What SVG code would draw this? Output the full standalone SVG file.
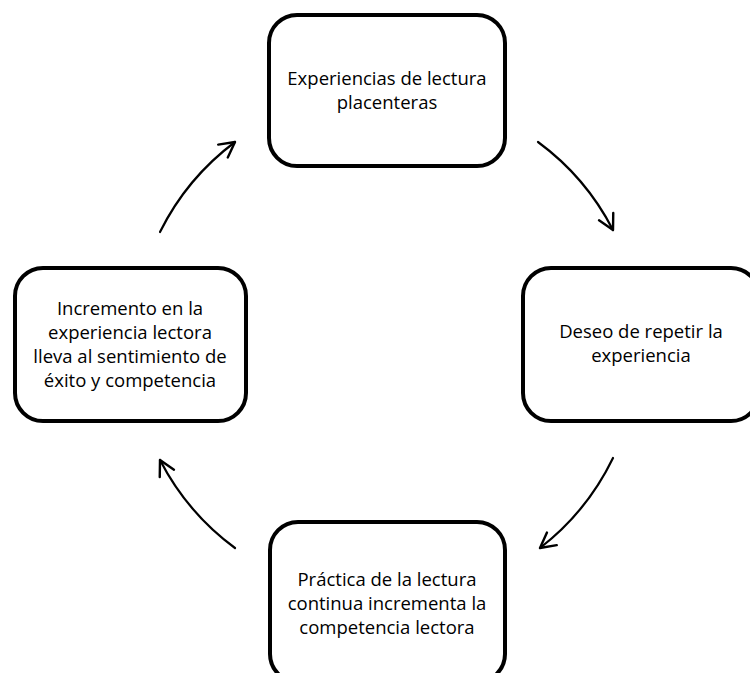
<svg xmlns="http://www.w3.org/2000/svg" width="750" height="673" viewBox="0 0 750 673">
<style>
.box{fill:#fff;stroke:#000;stroke-width:4}
.t{font-family:"Open Sans","Liberation Sans",sans-serif;font-size:18.5px;fill:#000;text-anchor:middle}
.c{fill:none;stroke:#000;stroke-width:2.2;stroke-linecap:round}
</style>
<defs>
<marker id="ah" markerUnits="userSpaceOnUse" markerWidth="30" markerHeight="30" refX="0" refY="0" orient="auto" overflow="visible" viewBox="-20 -15 30 30">
<path d="M-15,-8 L0,0 L-15,8" fill="none" stroke="#000" stroke-width="2.4" stroke-linecap="round" stroke-linejoin="round"/>
</marker>
</defs>
<rect width="750" height="673" fill="#fff"/>
<g id="connectors">
<path class="c" d="M160,232 A253,253 0 0 1 235,142" marker-end="url(#ah)"/>
<path class="c" d="M538,142 A253,253 0 0 1 613,230" marker-end="url(#ah)"/>
<path class="c" d="M613,458 A253,253 0 0 1 540,548" marker-end="url(#ah)"/>
<path class="c" d="M235,548 A253,253 0 0 1 160,460" marker-end="url(#ah)"/>
</g>
<g id="n1">
<rect class="box" x="269" y="15" width="236" height="151" rx="28"/>
<text class="t" x="387" y="85">Experiencias de lectura</text>
<text class="t" x="387" y="109">placenteras</text>
</g>
<g id="n2">
<rect class="box" x="523" y="268" width="236" height="153" rx="28"/>
<text class="t" x="641" y="338">Deseo de repetir la</text>
<text class="t" x="641" y="362">experiencia</text>
</g>
<g id="n3">
<rect class="box" x="270" y="522" width="235" height="160" rx="28"/>
<text class="t" x="387" y="586">Práctica de la lectura</text>
<text class="t" x="387" y="610">continua incrementa la</text>
<text class="t" x="387" y="634">competencia lectora</text>
</g>
<g id="n4">
<rect class="box" x="15" y="268" width="231" height="153" rx="28"/>
<text class="t" x="130" y="315">Incremento en la</text>
<text class="t" x="130" y="339">experiencia lectora</text>
<text class="t" x="130" y="363">lleva al sentimiento de</text>
<text class="t" x="130" y="387">éxito y competencia</text>
</g>
</svg>
